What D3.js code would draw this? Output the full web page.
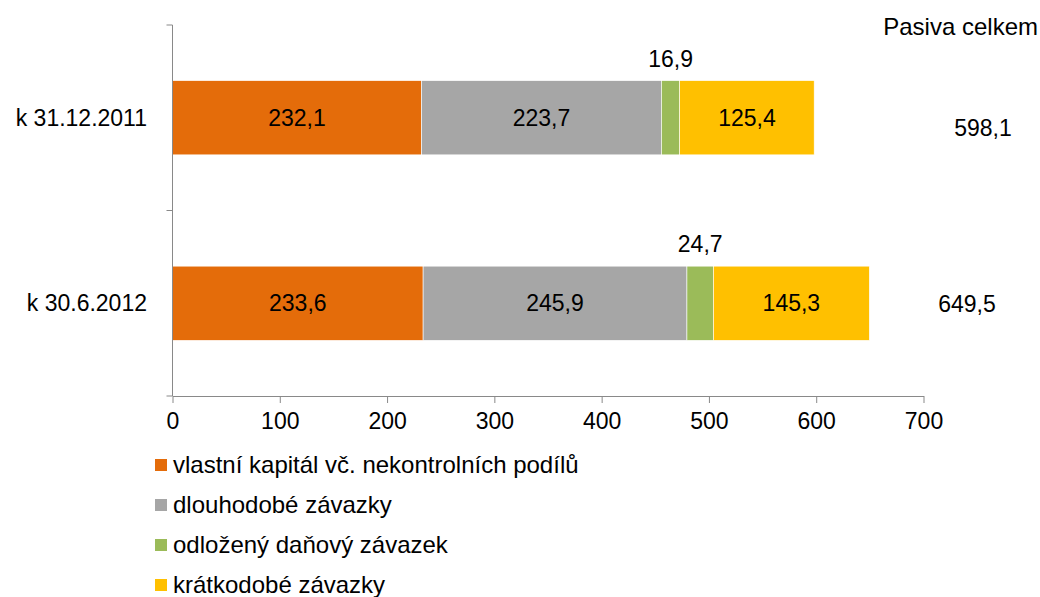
<!DOCTYPE html>
<html>
<head>
<meta charset="utf-8">
<script src="https://cdn.jsdelivr.net/npm/d3@7"></script>
<style>
  body { margin: 0; background: #fff; }
  svg text { font-family: "Liberation Sans", Arial, sans-serif; fill: #000; }
</style>
</head>
<body>
<script>
var width = 1040;
var height = 597;

// data
var categories = ['k 31.12.2011', 'k 30.6.2012'];
var seriesNames = ['vlastní kapitál vč. nekontrolních podílů', 'dlouhodobé závazky', 'odložený daňový závazek', 'krátkodobé závazky'];
var equity = [232.1, 233.6];
var longTerm = [223.7, 245.9];
var deferredTax = [16.9, 24.7];
var shortTerm = [125.4, 145.3];
var totals = [598.1, 649.5];
var xTicks = [0, 100, 200, 300, 400, 500, 600, 700];
var colors = ['#E46C0A', '#A6A6A6', '#9BBB59', '#FFC000'];

var rows = categories.map(function(c, i) {
  return { cat: c, s0: equity[i], s1: longTerm[i], s2: deferredTax[i], s3: shortTerm[i], total: totals[i] };
});
var keys = ['s0', 's1', 's2', 's3'];

var svg = d3.select('body')
  .append('svg')
  .attr('width', width)
  .attr('height', height);

var x = d3.scaleLinear().domain([0, 700]).range([172.5, 923.5]);
var y = d3.scaleBand().domain(categories).range([25, 396]).paddingInner(0.6).paddingOuter(0.3);

var stack = d3.stack().keys(keys);
var layers = stack(rows);

// bars
var layer = svg.selectAll('g.layer')
  .data(layers)
  .enter()
  .append('g')
  .attr('class', 'layer')
  .attr('fill', function(d, i) { return colors[i]; });

layer.selectAll('rect')
  .data(function(d) { return d; })
  .enter()
  .append('rect')
  .attr('x', function(d) { return x(d[0]); })
  .attr('y', function(d) { return y(d.data.cat); })
  .attr('width', function(d) { return x(d[1]) - x(d[0]); })
  .attr('height', y.bandwidth())
  .attr('stroke', '#fff')
  .attr('stroke-width', 0.6);

// value labels (green series sits above the bar)
layer.selectAll('text')
  .data(function(d) { return d.map(function(p) { p.key = d.key; return p; }); })
  .enter()
  .append('text')
  .attr('x', function(d) { return (x(d[0]) + x(d[1])) / 2; })
  .attr('y', function(d) {
    if (d.key == 's2') return y(d.data.cat) - 14;
    return y(d.data.cat) + y.bandwidth() / 2;
  })
  .attr('dy', function(d) { return d.key == 's2' ? 0 : '0.35em'; })
  .attr('text-anchor', 'middle')
  .attr('font-size', '23px')
  .text(function(d) { return d3.format('.1f')(d[1] - d[0]).replace('.', ','); });

// totals column
var totalX = [983, 967];
var totalDy = [10, 1];
svg.append('text')
  .attr('x', 1038)
  .attr('y', 35)
  .attr('text-anchor', 'end')
  .attr('font-size', '24px')
  .text('Pasiva celkem');

svg.selectAll('text.total')
  .data(rows)
  .enter()
  .append('text')
  .attr('class', 'total')
  .attr('x', function(d, i) { return totalX[i]; })
  .attr('y', function(d, i) { return y(d.cat) + y.bandwidth() / 2 + totalDy[i]; })
  .attr('dy', '0.35em')
  .attr('text-anchor', 'middle')
  .attr('font-size', '23px')
  .text(function(d) { return d3.format('.1f')(d.total).replace('.', ','); });

// x axis
var xAxis = svg.append('g')
  .attr('transform', 'translate(0,396)')
  .call(d3.axisBottom(x).tickValues(xTicks).tickSize(7).tickSizeOuter(0).tickPadding(10));
xAxis.select('.domain').attr('stroke', '#898989');
xAxis.selectAll('.tick line').attr('stroke', '#898989');
xAxis.selectAll('.tick text').attr('font-size', '23px').attr('font-family', '"Liberation Sans", Arial, sans-serif').attr('fill', '#000');

// y axis: line with ticks at category boundaries
var yLine = svg.append('g');
yLine.append('line')
  .attr('x1', x(0)).attr('x2', x(0))
  .attr('y1', 25).attr('y2', 396)
  .attr('stroke', '#898989');
var bounds = [25, 25 + y.step(), 396];
yLine.selectAll('line.tk')
  .data(bounds)
  .enter()
  .append('line')
  .attr('class', 'tk')
  .attr('x1', x(0) - 6).attr('x2', x(0))
  .attr('y1', function(d) { return d; }).attr('y2', function(d) { return d; })
  .attr('stroke', '#898989');

svg.selectAll('text.cat')
  .data(categories)
  .enter()
  .append('text')
  .attr('class', 'cat')
  .attr('x', 147)
  .attr('y', function(d) { return y(d) + y.bandwidth() / 2; })
  .attr('dy', '0.35em')
  .attr('text-anchor', 'end')
  .attr('font-size', '23px')
  .text(function(d) { return d; });

// legend
var legend = svg.append('g')
  .attr('transform', 'translate(155,465)');
var item = legend.selectAll('g')
  .data(seriesNames)
  .enter()
  .append('g')
  .attr('transform', function(d, i) { return 'translate(0,' + (i * 40) + ')'; });
item.append('rect')
  .attr('x', 0)
  .attr('y', -6)
  .attr('width', 12)
  .attr('height', 12)
  .attr('fill', function(d, i) { return colors[i]; });
item.append('text')
  .attr('x', 18)
  .attr('y', 0)
  .attr('dy', '0.35em')
  .attr('font-size', '24px')
  .text(function(d) { return d; });
</script>
</body>
</html>
